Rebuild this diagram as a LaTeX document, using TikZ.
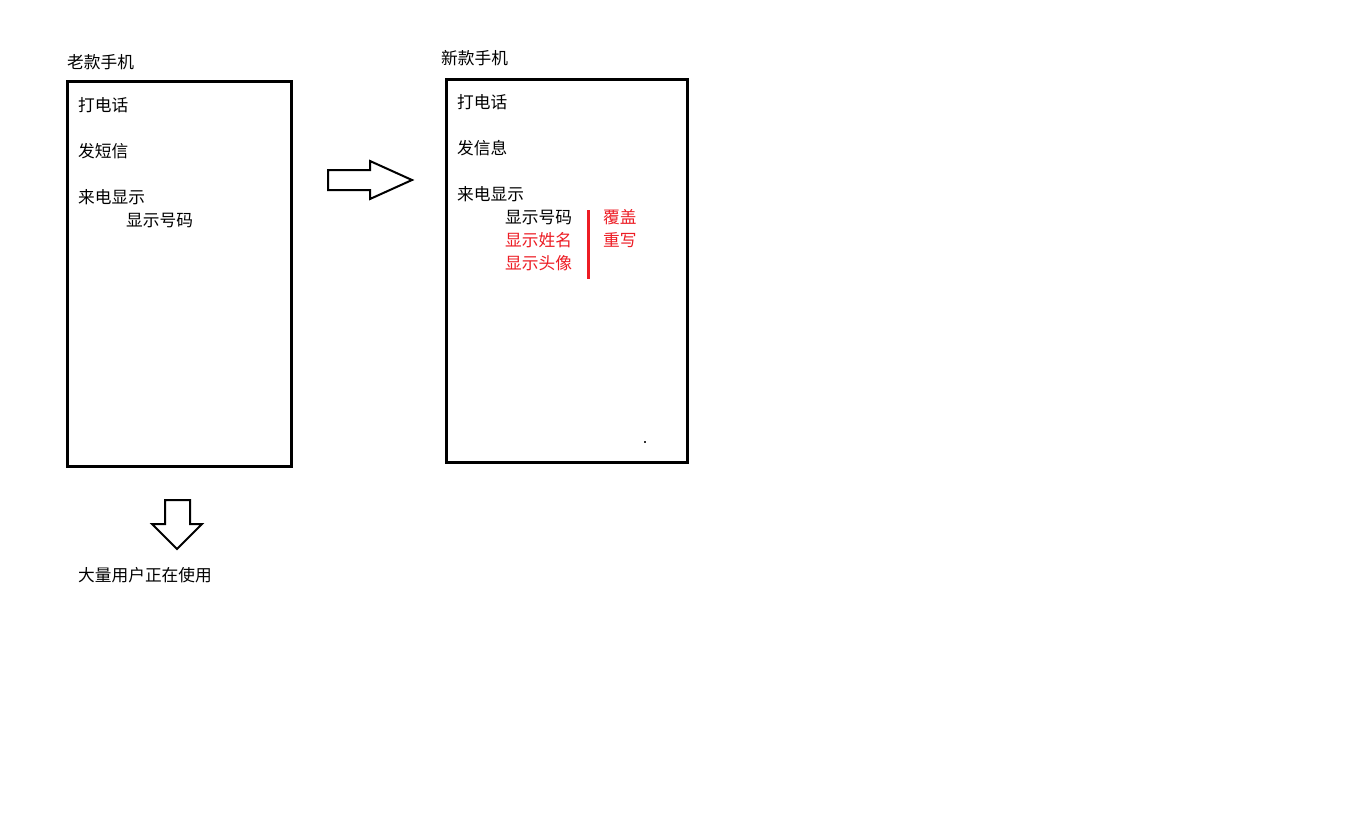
\documentclass[tikz,border=0pt]{standalone}
\usepackage{fontspec}
\newfontfamily\cjk{Noto Sans CJK SC}
\definecolor{pred}{RGB}{237,28,36}
\begin{document}
\begin{tikzpicture}[x=1pt,y=-1pt,
  txt/.style={anchor=west,inner sep=0pt,font=\cjk\fontsize{16.7}{18}\selectfont},
  rtxt/.style={txt,text=pred},
  phone/.style={draw=black,line width=3pt},
  bigarrow/.style={draw=black,line width=2pt,line join=miter,fill=white}]
\useasboundingbox (0,0) rectangle (1360,820);
\fill[white] (0,0) rectangle (1360,820);
% old phone
\node[txt] (oldt) at (67,62) {老款手机};
\draw[phone] (67,81) rectangle (291,466);
\node[txt] (o1) at (78,105) {打电话};
\node[txt] (o2) at (78,151) {发短信};
\node[txt] (o3) at (78,197) {来电显示};
\node[txt] (o4) at (126,220) {显示号码};
% right arrow
\draw[bigarrow] (328,170) -- (370,170) -- (370,161) -- (412,180) -- (370,199) -- (370,190) -- (328,190) -- cycle;
% down arrow
\draw[bigarrow] (165,500) -- (190,500) -- (190,524) -- (202,524) -- (177,549) -- (152,524) -- (165,524) -- cycle;
\node[txt] (users) at (78,575) {大量用户正在使用};
% new phone
\node[txt] (newt) at (441,58) {新款手机};
\draw[phone] (446,79) rectangle (687,462);
\node[txt] (n1) at (457,102) {打电话};
\node[txt] (n2) at (457,148) {发信息};
\node[txt] (n3) at (457,194) {来电显示};
\node[txt] (n4) at (505,217) {显示号码};
\node[rtxt] (n5) at (505,240) {显示姓名};
\node[rtxt] (n6) at (505,263) {显示头像};
\draw[pred,line width=3pt] (588,210) -- (588,279);
\node[rtxt] (r1) at (603,217) {覆盖};
\node[rtxt] (r2) at (603,240) {重写};
\fill[black!80] (644,441) rectangle (646,443);
\end{tikzpicture}
\end{document}
